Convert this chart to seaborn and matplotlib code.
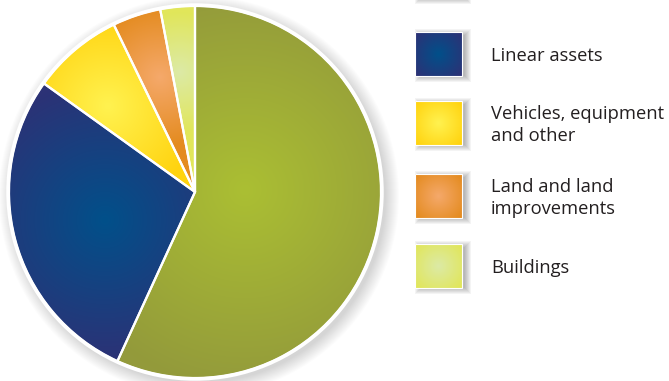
import numpy as np
import matplotlib
matplotlib.use("Agg")
import matplotlib.pyplot as plt
import seaborn as sns
from matplotlib.colors import to_rgb
from matplotlib.patches import Rectangle, Circle, Wedge

sns.set_theme(style="white")
plt.rcParams['font.family'] = ['Open Sans', 'DejaVu Sans']

# ---- data ----
categories = ["Facilities and infrastructure", "Linear assets",
              "Vehicles, equipment\nand other", "Land and land\nimprovements",
              "Buildings"]
values = [56.9, 28.1, 7.9, 4.2, 3.0]
edge_colors = ["#939a3b", "#2c3276", "#ffd30f", "#e48b1f", "#e1e65a"]
center_colors = ["#abbf33", "#01508a", "#fff250", "#f5a96b", "#dceaa6"]
# ---- layout / style ----
W, H = 669, 381
cx, cy, R = 195, 189, 186
grad_centers = [(245, 191), (105, 161), (108, 275), (160, 304), (180, 309)]
grad_radii = [200, 140, 95, 70, 60]
legend_y = [-24, 54, 123, 196, 266]   # box centres, pixels from the top

fig = plt.figure(figsize=(W / 100, H / 100), dpi=100)
fig.patch.set_facecolor("white")
ax = fig.add_axes([0, 0, 1, 1])

# soft shadow behind the pie
for k in range(14):
    ax.add_patch(Circle((cx + 4, cy - 4), R + 14 - k, facecolor="#000000",
                        alpha=0.012, edgecolor="none", zorder=0))

wedges, _ = ax.pie(values, center=(cx, cy), radius=R, startangle=90,
                   counterclock=False, colors=edge_colors, frame=True,
                   wedgeprops=dict(edgecolor="white", linewidth=1.5))

yy, xx = np.mgrid[0:H, 0:W] + 0.5
for w, ec, cc, (gx, gy), gr in zip(wedges, edge_colors, center_colors,
                                    grad_centers, grad_radii):
    d = np.hypot(xx - gx, yy - gy)
    t = np.clip(d / gr, 0, 1)[..., None]
    img = np.array(to_rgb(cc)) * (1 - t) + np.array(to_rgb(ec)) * t
    im = ax.imshow(img, extent=(0, W, 0, H), origin="lower", zorder=2,
                   interpolation="bilinear")
    im.set_clip_path(w)
    ax.add_patch(Wedge((cx, cy), R, w.theta1, w.theta2, facecolor="none",
                       edgecolor="white", linewidth=1.6, zorder=4))
ax.add_patch(Circle((cx, cy), R + 1, fill=False, edgecolor="white",
                    linewidth=2.5, zorder=4))

# legend drawn manually
bx, bw, bh = 415, 47, 44
for cat, ec, cc, ly in zip(categories, edge_colors, center_colors, legend_y):
    yc = H - ly
    for k in range(7):
        ax.add_patch(Rectangle((bx + 6 - k, yc - bh / 2 - k),
                               bw + 2 * k - 3, bh + 2 * k - 3,
                               facecolor="black", alpha=0.045,
                               edgecolor="none", zorder=1))
    gy_, gx_ = np.mgrid[0:44, 0:47] + 0.5
    d = np.hypot(gx_ - 23.5, gy_ - 22) / 30
    t = np.clip(d, 0, 1)[..., None]
    img = np.array(to_rgb(cc)) * (1 - t) + np.array(to_rgb(ec)) * t
    ax.imshow(img, extent=(bx, bx + bw, yc - bh / 2, yc + bh / 2),
              origin="lower", zorder=3, interpolation="bilinear")
    ax.add_patch(Rectangle((bx, yc - bh / 2), bw, bh, fill=False,
                           edgecolor="white", linewidth=0.8, zorder=4))
    if ly > 0:  # the first label lies above the visible area
        ax.text(491, yc - 2, cat, va="center", ha="left", fontsize=13.2,
                color="#231f20", linespacing=1.22, zorder=5)

ax.set_xlim(0, W)
ax.set_ylim(0, H)
ax.set_aspect("equal")
ax.axis("off")
fig.savefig("out.png", dpi=100, facecolor="white")
